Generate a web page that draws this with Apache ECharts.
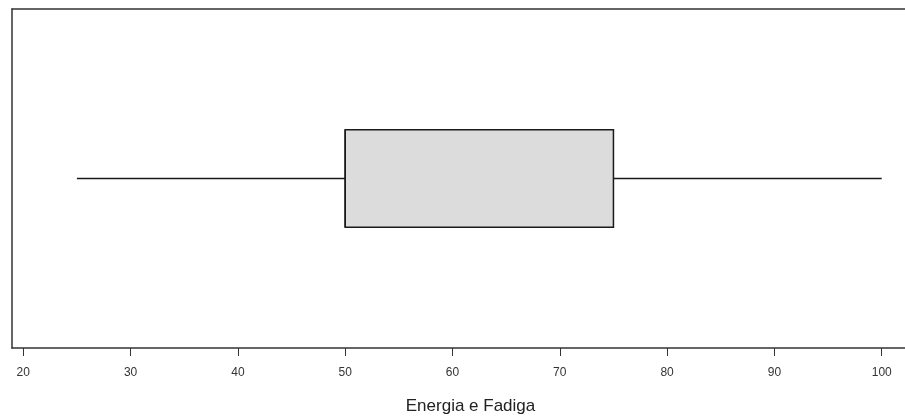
<!DOCTYPE html>
<html><head><meta charset="utf-8">
<script src="https://cdn.jsdelivr.net/npm/echarts@6/dist/echarts.min.js"></script>
<style>html,body{margin:0;padding:0;background:#fff}#c{width:905px;height:420px}</style>
</head><body><div id="c"></div>
<script>
const axisTitle = 'Energia e Fadiga';
const tickValues = [20, 30, 40, 50, 60, 70, 80, 90, 100];
const whiskerLow = [25];
const q1 = [50];
const median = [50];
const q3 = [75];
const whiskerHigh = [100];

const data = whiskerLow.map((v, i) => [v, q1[i], median[i], q3[i], whiskerHigh[i]]);
const frameLine = {show: true, onZero: false, lineStyle: {color: '#333', width: 1.5}};

const chart = echarts.init(document.getElementById('c'), null, {renderer: 'canvas'});
chart.setOption({
  animation: false,
  backgroundColor: '#fff',
  grid: {left: 12, right: 0, top: 9, bottom: 69, show: false},
  xAxis: [{
    type: 'value', min: 18.95, max: 102.17,
    name: axisTitle, nameLocation: 'middle', nameGap: 50,
    nameTextStyle: {fontFamily: 'Liberation Sans, Arial', fontSize: 17, color: '#222', padding: [0, 0, 0, 24]},
    axisLine: frameLine,
    axisTick: {show: true, inside: false, length: 8, customValues: tickValues, lineStyle: {color: '#333', width: 1}},
    axisLabel: {customValues: tickValues, margin: 19, fontFamily: 'Liberation Sans, Arial', fontSize: 12, color: '#333'},
    splitLine: {show: false}
  }, {
    type: 'value', position: 'top', min: 18.95, max: 102.17,
    axisLine: frameLine, axisTick: {show: false}, axisLabel: {show: false}, splitLine: {show: false}
  }],
  yAxis: {
    type: 'value', min: 0, max: 1,
    axisLine: frameLine, axisTick: {show: false}, axisLabel: {show: false}, splitLine: {show: false}
  },
  series: [{
    type: 'custom',
    data: data,
    encode: {x: [0, 1, 2, 3, 4]},
    renderItem: function (params, api) {
      const lo = api.coord([api.value(0), 0.5]);
      const a = api.coord([api.value(1), 0.644]);
      const med = api.coord([api.value(2), 0.5]);
      const b = api.coord([api.value(3), 0.356]);
      const hi = api.coord([api.value(4), 0.5]);
      const yc = lo[1];
      const stroke = {stroke: '#1a1a1a', lineWidth: 1.5, fill: null};
      return {
        type: 'group',
        children: [
          {type: 'line', shape: {x1: lo[0], y1: yc, x2: a[0], y2: yc}, style: stroke},
          {type: 'line', shape: {x1: b[0], y1: yc, x2: hi[0], y2: yc}, style: stroke},
          {type: 'rect', shape: {x: a[0], y: a[1], width: b[0] - a[0], height: b[1] - a[1]},
           style: {fill: '#dcdcdc', stroke: '#1a1a1a', lineWidth: 1.5}},
          {type: 'line', shape: {x1: med[0], y1: a[1], x2: med[0], y2: b[1]}, style: stroke}
        ]
      };
    }
  }]
});
</script></body></html>
